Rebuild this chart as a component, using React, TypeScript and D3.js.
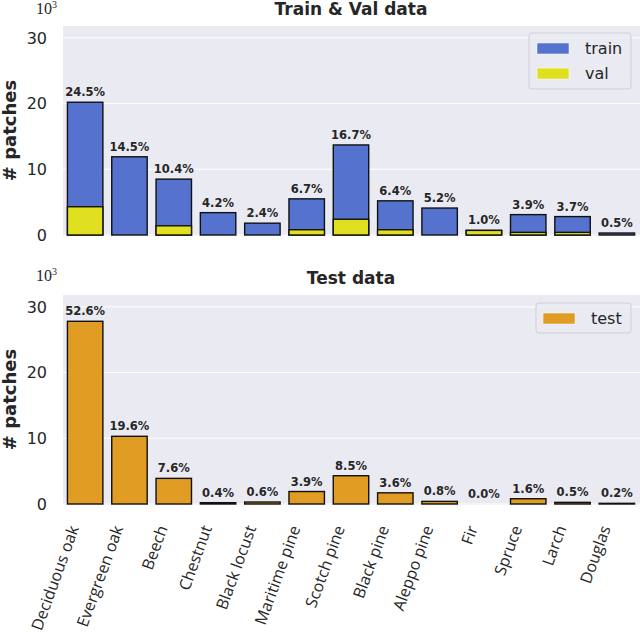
import React from 'react';
import { scaleBand, scaleLinear } from 'd3';

const SPECIES = [
  'Deciduous oak', 'Evergreen oak', 'Beech', 'Chestnut', 'Black locust', 'Maritime pine',
  'Scotch pine', 'Black pine', 'Aleppo pine', 'Fir', 'Spruce', 'Larch', 'Douglas',
];
// values in thousands of patches
const TRAIN = [20.2, 11.9, 8.5, 3.4, 1.8, 5.5, 13.7, 5.2, 4.1, 0.7, 3.1, 2.8, 0.3];
const VAL = [4.3, 0, 1.4, 0, 0, 0.8, 2.4, 0.8, 0, 0.7, 0.4, 0.4, 0];
const TRAIN_PCT = ['24.5%', '14.5%', '10.4%', '4.2%', '2.4%', '6.7%', '16.7%', '6.4%', '5.2%', '1.0%', '3.9%', '3.7%', '0.5%'];
const TEST = [27.8, 10.3, 3.9, 0.2, 0.3, 1.9, 4.3, 1.7, 0.4, 0, 0.8, 0.25, 0.1];
const TEST_PCT = ['52.6%', '19.6%', '7.6%', '0.4%', '0.6%', '3.9%', '8.5%', '3.6%', '0.8%', '0.0%', '1.6%', '0.5%', '0.2%'];
const Y_TICKS = [0, 10, 20, 30];

const W = 640;
const H = 632;
const LEFT = 63;
const RIGHT = 639;
const BG = '#eaeaf2';
const TXT = '#262626';
const COLORS = { train: '#5572cf', val: '#e0e021', test: '#e09c23' };
const FONT = '"DejaVu Sans", sans-serif';

const x = scaleBand<string>().domain(SPECIES).range([LEFT, RIGHT]).paddingInner(0.2).paddingOuter(0.1);

type Layer = { values: number[]; color: string };

const Panel = ({ top, bottom, title, titleY, expY, layers, labels, legend, legendBox }: {
  top: number; bottom: number; title: string; titleY: number; expY: number;
  layers: Layer[]; labels: string[]; legend: { name: string; color: string }[];
  legendBox: { x: number; y: number; w: number; h: number; pad: number; row: number };
}) => {
  const y = scaleLinear().domain([0, 31.8]).range([bottom, top]);
  const base = layers[0].values;
  return (
    <g>
      <rect x={LEFT} y={top} width={RIGHT - LEFT + 1} height={bottom - top + 1} fill={BG} />
      {Y_TICKS.map((t) => (
        <g key={t}>
          <line x1={LEFT} x2={RIGHT + 1} y1={y(t)} y2={y(t)} stroke="#fff" strokeWidth={1} />
          <text x={47} y={y(t)} dy="0.36em" textAnchor="end" fontSize={16} fill={TXT} fontFamily={FONT}>{t}</text>
        </g>
      ))}
      <text x={36} y={expY} fontSize={16} fill={TXT} fontFamily='"Liberation Serif", serif'>
        10<tspan fontSize={10} dy={-6}>3</tspan>
      </text>
      <text x={(LEFT + RIGHT) / 2} y={titleY} textAnchor="middle" fontSize={17} fontWeight="bold" fill={TXT} fontFamily={FONT}>{title}</text>
      <text transform={`translate(16, ${(top + bottom) / 2}) rotate(-90)`} textAnchor="middle" fontSize={18} fontWeight="bold" fill={TXT} fontFamily={FONT}># patches</text>
      {layers.map((layer, li) => (
        <g key={li}>
          {layer.values.map((v, i) => (
            <rect key={SPECIES[i]} x={x(SPECIES[i])} y={y(v)} width={x.bandwidth()} height={Math.max(0, y(0) - y(v))}
              fill={layer.color} stroke={v > 0 ? '#111' : 'none'} strokeWidth={1.4} />
          ))}
        </g>
      ))}
      {labels.map((l, i) => (
        <text key={i} x={(x(SPECIES[i]) as number) + x.bandwidth() / 2} y={y(base[i]) - 6} textAnchor="middle"
          fontSize={11.5} fontWeight="bold" fill={TXT} fontFamily={FONT}>{l}</text>
      ))}
      <rect x={legendBox.x} y={legendBox.y} width={legendBox.w} height={legendBox.h} rx={3}
        fill={BG} fillOpacity={0.8} stroke="#cfcfd6" strokeWidth={1} />
      {legend.map((it, i) => (
        <g key={it.name}>
          <rect x={legendBox.x + legendBox.pad} y={legendBox.y + 10 + i * legendBox.row} width={32} height={11} fill={it.color} stroke="#fff" strokeWidth={0.5} />
          <text x={legendBox.x + legendBox.pad + 48} y={legendBox.y + 21 + i * legendBox.row} fontSize={16} fill={TXT} fontFamily={FONT}>{it.name}</text>
        </g>
      ))}
    </g>
  );
};

export default function App() {
  return (
    <div style={{ position: 'absolute', left: 0, top: 0 }}>
      <svg width={W} height={H} style={{ display: 'block', background: '#fff' }}>
        <Panel top={26} bottom={235} title="Train & Val data" titleY={15} expY={14}
          layers={[{ values: TRAIN, color: COLORS.train }, { values: VAL, color: COLORS.val }]}
          labels={TRAIN_PCT}
          legend={[{ name: 'train', color: COLORS.train }, { name: 'val', color: COLORS.val }]}
          legendBox={{ x: 529, y: 33, w: 102, h: 56, pad: 8, row: 25 }} />
        <Panel top={295} bottom={504} title="Test data" titleY={284} expY={281}
          layers={[{ values: TEST, color: COLORS.test }]}
          labels={TEST_PCT}
          legend={[{ name: 'test', color: COLORS.test }]}
          legendBox={{ x: 536, y: 303, w: 95, h: 30, pad: 7, row: 25 }} />
        {SPECIES.map((s) => (
          <text key={s} transform={`translate(${(x(s) as number) + x.bandwidth() / 2 - 6}, 528) rotate(-70)`}
            textAnchor="end" fontSize={16} fill={TXT} fontFamily='"Open Sans", sans-serif'>{s}</text>
        ))}
      </svg>
    </div>
  );
}
